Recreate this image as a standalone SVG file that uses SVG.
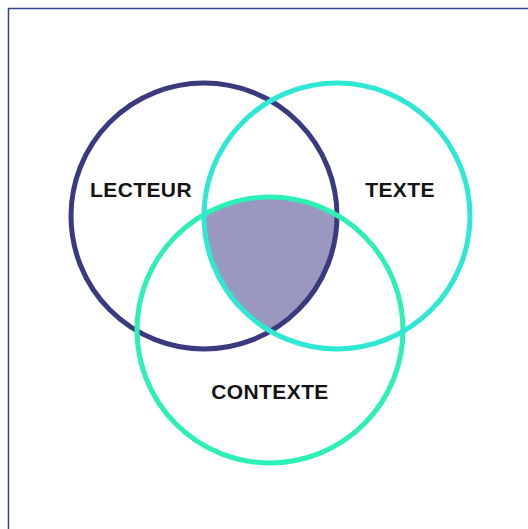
<svg xmlns="http://www.w3.org/2000/svg" width="528" height="529" viewBox="0 0 528 529">
<style>
.ring{fill:none;stroke-width:5}
.lbl{font-family:"Liberation Sans",Arial,sans-serif;font-weight:bold;font-size:21px;letter-spacing:0.4px;fill:#141414;text-anchor:middle}
</style>
<rect width="528" height="529" fill="#ffffff"/>
<path d="M8.5,529 V8.5 H528" fill="none" stroke="#34468f" stroke-width="1.5"/>
<g id="intersection">
<path d="M204,214.5 A133,133 0 0,1 337,215.1 A133,133 0 0,1 270.5,331.2 A133,133 0 0,1 204,214.5 Z" fill="#9a98c0"/>
</g>
<g id="lecteur">
<circle class="ring" cx="204" cy="216" r="133" stroke="#3a3a7e"/>
<text class="lbl" x="141" y="197">LECTEUR</text>
</g>
<g id="contexte">
<circle class="ring" cx="270" cy="330" r="133" stroke="#2cf0b6"/>
<text class="lbl" x="270" y="399">CONTEXTE</text>
</g>
<g id="texte">
<circle class="ring" cx="337" cy="216" r="133" stroke="#2ee8d4"/>
<text class="lbl" x="400" y="197">TEXTE</text>
</g>
<g id="connectors"></g>
</svg>
